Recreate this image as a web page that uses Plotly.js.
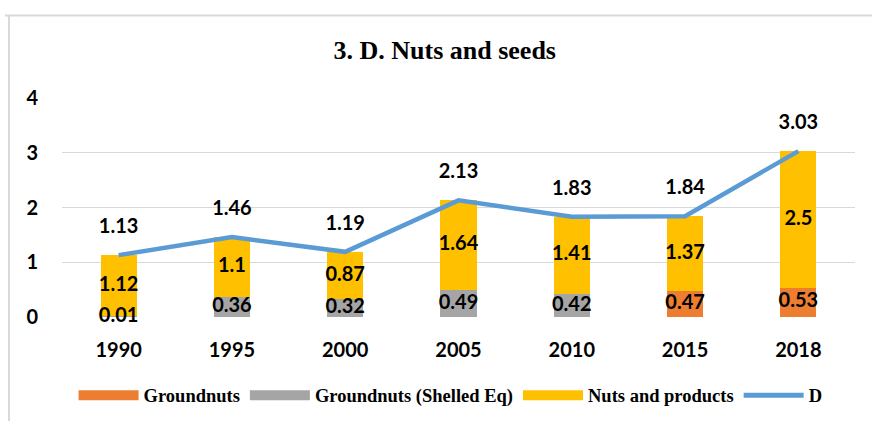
<!DOCTYPE html>
<html>
<head>
<meta charset="utf-8">
<script src="https://cdn.plot.ly/plotly-3.0.1.min.js"></script>
<style>html,body{margin:0;padding:0;background:#fff;}#chart{width:872px;height:427px;}</style>
</head>
<body>
<div id="chart"></div>
<script>
const years = ['1990', '1995', '2000', '2005', '2010', '2015', '2018'];
const groundnuts = [null, null, null, null, null, 0.47, 0.53];
const shelledEq = [0.01, 0.36, 0.32, 0.49, 0.42, null, null];
const nutsProducts = [1.12, 1.1, 0.87, 1.64, 1.41, 1.37, 2.5];
const totalD = [1.13, 1.46, 1.19, 2.13, 1.83, 1.84, 3.03];
const seriesNames = ['Groundnuts', 'Groundnuts (Shelled Eq)', 'Nuts and products', 'D'];
const colors = ['#ED7D31', '#A5A5A5', '#FFC000', '#5B9BD5'];

const labelFont = {family: 'Lato, sans-serif', size: 20, color: '#000', weight: 'bold'};
function fmt(arr) { return arr.map(v => v == null ? '' : String(v)); }

const stacks = [groundnuts, shelledEq, nutsProducts];

function barTrace(vals, i) {
  return {
    type: 'bar', x: years, y: vals, name: seriesNames[i],
    marker: {color: colors[i]}, showlegend: false, hoverinfo: 'skip'
  };
}
function legendTrace(i, w) {
  return {
    type: 'scatter', mode: 'lines', x: [years[0]], y: [null], name: seriesNames[i],
    line: {color: colors[i], width: w}, hoverinfo: 'skip'
  };
}

// segment labels at the middle of each stacked segment (computed from the data)
const lblX = [], lblY = [], lblT = [];
years.forEach((yr, j) => {
  let base = 0;
  stacks.forEach(arr => {
    const v = arr[j];
    if (v != null) {
      lblX.push(yr); lblY.push(base + v / 2); lblT.push(String(v));
      base += v;
    }
  });
});

const data = [
  barTrace(groundnuts, 0),
  barTrace(shelledEq, 1),
  barTrace(nutsProducts, 2),
  {
    type: 'scatter', mode: 'lines+markers+text', x: years, y: totalD, name: seriesNames[3],
    line: {color: colors[3], width: 4.5},
    marker: {size: 26, color: 'rgba(0,0,0,0)'},
    text: fmt(totalD), textposition: 'top center', textfont: labelFont,
    cliponaxis: false, showlegend: false, hoverinfo: 'skip'
  },
  {
    type: 'scatter', mode: 'text', x: lblX, y: lblY, text: lblT,
    textposition: 'middle center', textfont: labelFont,
    cliponaxis: false, showlegend: false, hoverinfo: 'skip'
  },
  legendTrace(0, 10), legendTrace(1, 10), legendTrace(2, 10), legendTrace(3, 5)
];

const layout = {
  width: 872, height: 427,
  margin: {l: 62, r: 17, t: 98, b: 106},
  paper_bgcolor: '#fff', plot_bgcolor: '#fff',
  barmode: 'stack', bargap: 0.68,
  title: {text: '<b>3. D. Nuts and seeds</b>', x: 0.51, xanchor: 'center', y: 0.883, yanchor: 'middle', yref: 'container',
          font: {family: '"Liberation Serif", "Times New Roman", serif', size: 26, color: '#000'}},
  xaxis: {type: 'category', showgrid: false, zeroline: false, showline: false, ticks: '',
          tickfont: {family: 'Lato, sans-serif', size: 20, color: '#000', weight: 'bold'}, ticklabelstandoff: 19},
  yaxis: {range: [0, 4], dtick: 1, showgrid: true, gridcolor: '#D9D9D9', gridwidth: 1, zeroline: false, showline: false, ticks: '',
          tickfont: {family: 'Lato, sans-serif', size: 20, color: '#000', weight: 'bold'}, ticklabelstandoff: 23},
  legend: {orientation: 'h', x: 0.49, xanchor: 'center', y: -0.359, yanchor: 'middle', traceorder: 'normal',
           font: {family: '"Liberation Serif", "Times New Roman", serif', size: 18.5, color: '#000', weight: 'bold'},
           itemwidth: 60, bgcolor: 'rgba(0,0,0,0)'},
  shapes: [
    {type: 'line', xref: 'paper', yref: 'paper', x0: -0.0668, x1: -0.0668, y0: -0.475, y1: 1.3767, line: {color: '#D9D9D9', width: 2}},
    {type: 'line', xref: 'paper', yref: 'paper', x0: -0.0719, x1: 1.03, y0: 1.3767, y1: 1.3767, line: {color: '#D9D9D9', width: 2}}
  ]
};

Plotly.newPlot('chart', data, layout, {displayModeBar: false, staticPlot: true});
</script>
</body>
</html>
